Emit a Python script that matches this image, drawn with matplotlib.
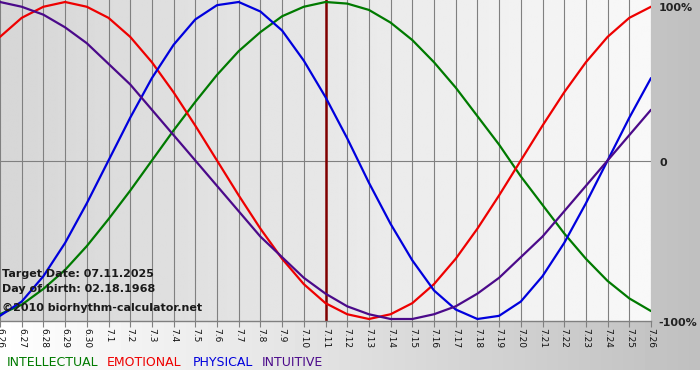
import numpy as np
import matplotlib
matplotlib.use("Agg")
import matplotlib.pyplot as plt

# ---- data ----
dates = ["6.26", "6.27", "6.28", "6.29", "6.30", "7.1", "7.2", "7.3", "7.4", "7.5",
         "7.6", "7.7", "7.8", "7.9", "7.10", "7.11", "7.12", "7.13", "7.14", "7.15",
         "7.16", "7.17", "7.18", "7.19", "7.20", "7.21", "7.22", "7.23", "7.24", "7.25", "7.26"]

intellectual = [-0.97, -0.91, -0.81, -0.69, -0.54, -0.37, -0.19, 0.00, 0.19, 0.37,
                0.54, 0.69, 0.81, 0.91, 0.97, 1.00, 0.99, 0.95, 0.87, 0.76,
                0.62, 0.46, 0.28, 0.10, -0.10, -0.28, -0.46, -0.62, -0.76, -0.87, -0.95]
emotional = [0.78, 0.90, 0.97, 1.00, 0.97, 0.90, 0.78, 0.62, 0.43, 0.22,
             0.00, -0.22, -0.43, -0.62, -0.78, -0.90, -0.97, -1.00, -0.97, -0.90,
             -0.78, -0.62, -0.43, -0.22, 0.00, 0.22, 0.43, 0.62, 0.78, 0.90, 0.97]
physical = [-0.98, -0.89, -0.73, -0.52, -0.27, 0.00, 0.27, 0.52, 0.73, 0.89,
            0.98, 1.00, 0.94, 0.82, 0.63, 0.40, 0.14, -0.14, -0.40, -0.63,
            -0.82, -0.94, -1.00, -0.98, -0.89, -0.73, -0.52, -0.27, 0.00, 0.27, 0.52]
intuitive = [1.00, 0.97, 0.92, 0.84, 0.74, 0.61, 0.48, 0.32, 0.16, 0.00,
             -0.16, -0.32, -0.48, -0.61, -0.74, -0.84, -0.92, -0.97, -1.00, -1.00,
             -0.97, -0.92, -0.84, -0.74, -0.61, -0.48, -0.32, -0.16, 0.00, 0.16, 0.32]

target_date = "7.11"
y_labels = ["100%", "0", "-100%"]
info_lines = ["Target Date: 07.11.2025", "Day of birth: 02.18.1968", "\u00a92010 biorhythm-calculator.net"]
series_names = ["INTELLECTUAL", "EMOTIONAL", "PHYSICAL", "INTUITIVE"]
series_colors = ["#007a00", "#ee0000", "#0000dd", "#4b0a8a"]

W, H = 700, 380
fig = plt.figure(figsize=(W / 100, H / 100), dpi=100)

# ---- page background gradient ----
bg = fig.add_axes([0, 0, 1, 1], zorder=-10)
bg.set_axis_off()
ramp = np.linspace(1.0, 0.75, W)
img = np.tile(ramp, (H, 1))
img[370:, :] = 1.0
bg.imshow(img, cmap="gray", vmin=0, vmax=1, aspect="auto", extent=[0, 1, 0, 1],
          interpolation="bilinear")
bg.set_xlim(0, 1)
bg.set_ylim(0, 1)

# ---- main plot ----
plot_left, plot_right, plot_top, plot_bottom = 0, 651, 0, 321
ax = fig.add_axes([plot_left / W, (H - plot_bottom) / H,
                   (plot_right - plot_left) / W, (plot_bottom - plot_top) / H])
x = np.arange(len(dates))
ax.set_xlim(0, len(dates) - 1)
ylim = 1.0126
ax.set_ylim(-ylim, ylim)

pramp = np.linspace(0.84, 0.975, 400)
ax.imshow(np.tile(pramp, (10, 1)), cmap="gray", vmin=0, vmax=1, aspect="auto",
          extent=[0, len(dates) - 1, -ylim, ylim], interpolation="bilinear", zorder=0)

for s in ax.spines.values():
    s.set_visible(False)
ax.spines["bottom"].set_visible(True)
ax.spines["bottom"].set_color("#808080")
ax.spines["bottom"].set_linewidth(1.0)

ax.set_xticks(x)
ax.set_xticklabels(dates, rotation=270, fontsize=6.5, color="#111111")
ax.tick_params(axis="x", direction="out", length=4, width=0.8, color="#808080", pad=1)
ax.set_yticks([])
ax.grid(axis="x", color="#808080", linewidth=0.8, zorder=1)
ax.set_axisbelow(True)
ax.axhline(0, color="#808080", linewidth=0.8, zorder=1)

ax.axvline(dates.index(target_date), color="#800000", linewidth=1.8, zorder=2)

for vals, col in zip([intellectual, emotional, physical, intuitive], series_colors):
    ax.plot(x, vals, color=col, linewidth=1.6, zorder=3, solid_joinstyle="round",
            solid_capstyle="round")

# right-side percentage labels (pixel baselines)
for lab, xpx, base in zip(y_labels, [659, 659, 658], [11, 166, 326]):
    fig.text(xpx / W, 1 - base / H, lab, fontsize=8, fontweight="bold",
             color="#222222", ha="left", va="baseline")

# info text
for txt, base in zip(info_lines, [277, 292, 311]):
    fig.text(2 / W, 1 - base / H, txt, fontsize=8, fontweight="bold",
             color="#1a1a1a", ha="left", va="baseline")

# legend words
for name, col, xpx in zip(series_names, series_colors, [7, 107, 193, 262]):
    fig.text(xpx / W, 1 - 366 / H, name, fontsize=9, color=col,
             ha="left", va="baseline")

fig.savefig("out.png", dpi=100)
